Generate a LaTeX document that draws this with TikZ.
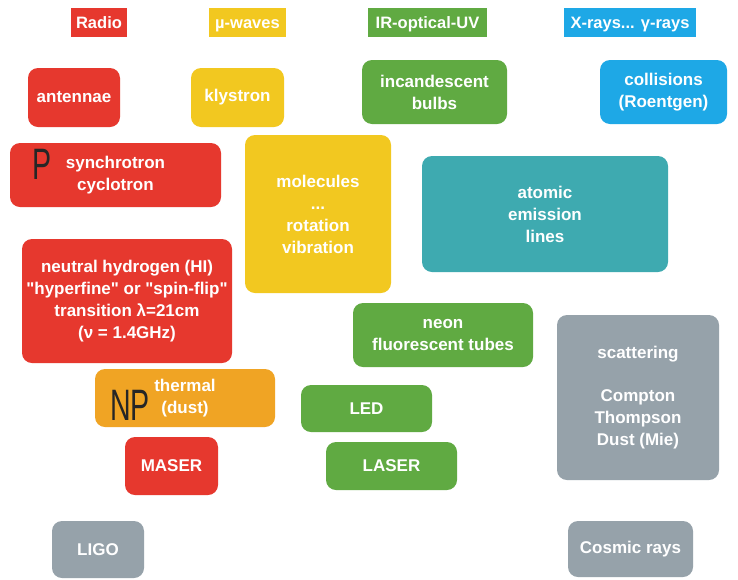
\documentclass[tikz,border=0pt]{standalone}
\usepackage{fontspec}
\setmainfont{Liberation Sans}
\usepackage{tikz}
\usepackage{xcolor}

\definecolor{radiored}{RGB}{230,56,46}
\definecolor{waveyellow}{RGB}{242,200,32}
\definecolor{optgreen}{RGB}{96,170,66}
\definecolor{xblue}{RGB}{30,168,230}
\definecolor{atomteal}{RGB}{62,170,176}
\definecolor{dustorange}{RGB}{240,164,36}
\definecolor{othergray}{RGB}{150,162,170}

\begin{document}
\begin{tikzpicture}[
    x=1pt, y=-1pt,
    box/.style={rounded corners=10pt, align=center, text=white, inner sep=0pt,
                font=\fontsize{17}{22}\selectfont\bfseries},
    band/.style={align=center, text=white, inner sep=0pt, minimum height=29pt,
                text height=12pt, text depth=0pt,
                font=\fontsize{16.5}{20}\selectfont\bfseries},
    scribble/.style={text=black!85, inner sep=0pt,
                font=\fontsize{44}{44}\selectfont}
]
  \useasboundingbox[fill=white] (0,0) rectangle (738,579);

  % band headings
  \node[band, fill=radiored, minimum width=56pt] (radio) at (99,22.5) {Radio};
  \node[band, fill=waveyellow, minimum width=77pt] (micro) at (247.5,22.5) {µ-waves};
  \node[band, fill=optgreen, minimum width=119pt] (optical) at (427.5,22.5) {IR-optical-UV};
  \node[band, fill=xblue, minimum width=132pt] (xray) at (630,22.5) {X-rays... γ-rays};

  % sources
  \node[box, fill=radiored, minimum width=92pt, minimum height=59pt] (ant) at (74,97.5) {antennae};
  \node[box, fill=waveyellow, minimum width=93pt, minimum height=59pt] (kly) at (237.5,97.5) {klystron};
  \node[box, fill=optgreen, minimum width=145pt, minimum height=64pt] (bulb) at (434.5,92) {incandescent\\bulbs};
  \node[box, fill=xblue, minimum width=127pt, minimum height=64pt] (coll) at (663.5,92) {collisions\\(Roentgen)};
  \node[box, fill=radiored, minimum width=211pt, minimum height=64pt] (sync) at (115.5,175) {synchrotron\\cyclotron};
  \node[box, fill=waveyellow, minimum width=146pt, minimum height=158pt] (mol) at (318,214) {molecules\\...\\rotation\\vibration};
  \node[box, fill=atomteal, minimum width=246pt, minimum height=116pt] (atom) at (545,214) {atomic\\emission\\lines};
  \node[box, fill=radiored, minimum width=210pt, minimum height=124pt] (hone) at (127,301)
    {neutral hydrogen (HI)\\\textquotedbl hyperfine\textquotedbl{} or \textquotedbl spin-flip\textquotedbl\\transition λ=21cm\\(ν = 1.4GHz)};
  \node[box, fill=optgreen, minimum width=180pt, minimum height=64pt] (neon) at (443,335) {neon\\fluorescent tubes};
  \node[box, fill=othergray, minimum width=162pt, minimum height=165pt] (scat) at (638,397.5)
    {scattering\\[21pt]Compton\\Thompson\\Dust (Mie)};
  \node[box, fill=dustorange, minimum width=180pt, minimum height=58pt] (therm) at (185,398) {thermal\\(dust)};
  \node[box, fill=optgreen, minimum width=131pt, minimum height=47pt] (led) at (366.5,408.5) {LED};
  \node[box, fill=radiored, minimum width=93pt, minimum height=58pt] (maser) at (171.5,466) {MASER};
  \node[box, fill=optgreen, minimum width=131pt, minimum height=48pt] (laser) at (391.5,466) {LASER};
  \node[box, fill=othergray, minimum width=92pt, minimum height=57pt] (ligo) at (98,549.5) {LIGO};
  \node[box, fill=othergray, minimum width=125pt, minimum height=56pt] (cosmic) at (630.5,549) {Cosmic rays};

  % handwritten marks
  \node[scribble] (markp) at (42.5,164.5) {\scalebox{0.65}[1]{P}};
  \node[scribble] (marknp) at (130,405) {\scalebox{0.65}[1]{NP}};
\end{tikzpicture}
\end{document}
